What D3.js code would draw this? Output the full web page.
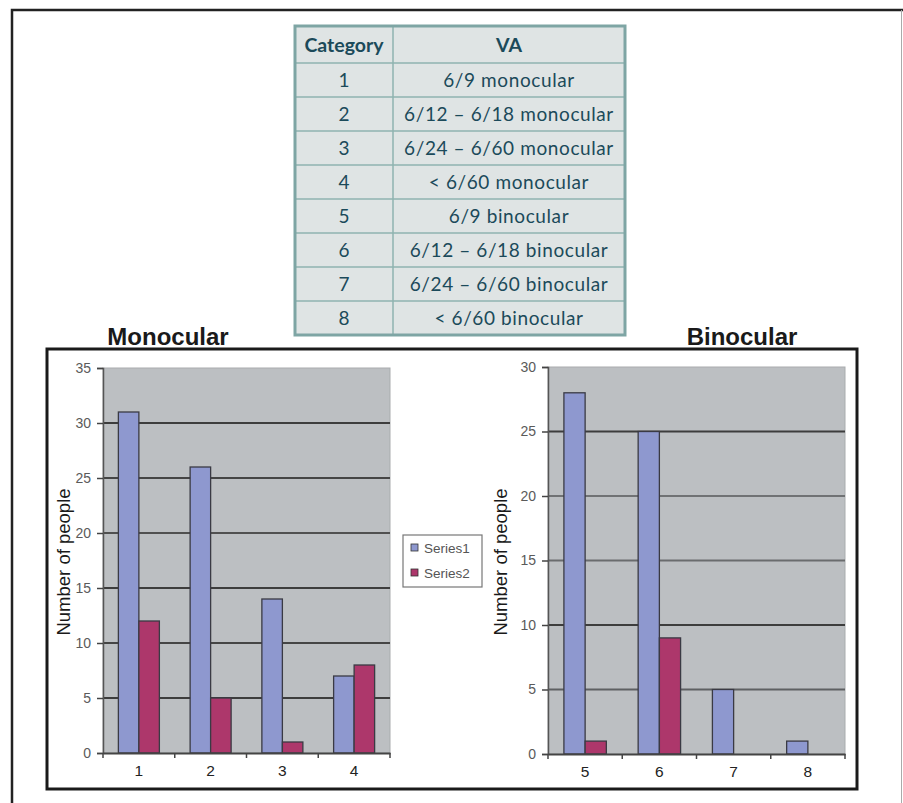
<!DOCTYPE html>
<html><head><meta charset="utf-8">
<script src="https://cdn.jsdelivr.net/npm/d3@7"></script>
<style>body{margin:0;background:#fff;}svg{display:block;}</style>
</head><body>
<script>
// ---- data ----
const tableHeader = ["Category", "VA"];
const tableCategories = ["1","2","3","4","5","6","7","8"];
const tableVA = ["6/9 monocular","6/12 \u2013 6/18 monocular","6/24 \u2013 6/60 monocular","< 6/60 monocular",
                 "6/9 binocular","6/12 \u2013 6/18 binocular","6/24 \u2013 6/60 binocular","< 6/60 binocular"];
const seriesNames = ["Series1","Series2"];
const monoCategories = ["1","2","3","4"];
const monoSeries1 = [31, 26, 14, 7];
const monoSeries2 = [12, 5, 1, 8];
const monoTicks = [0,5,10,15,20,25,30,35];
const binoCategories = ["5","6","7","8"];
const binoSeries1 = [28, 25, 5, 1];
const binoSeries2 = [1, 9, 0, 0];
const binoTicks = [0,5,10,15,20,25,30];
const yTitle = "Number of people";

const W = 903, H = 803;
const colors = ["#8e98cf", "#ad376b"];
const svg = d3.select("body").append("svg").attr("width", W).attr("height", H);

// page frame
svg.append("path").attr("d", `M12,803 V10 H903`).attr("fill","none").attr("stroke","#222").attr("stroke-width",2.5);
svg.append("line").attr("x1",901.5).attr("x2",901.5).attr("y1",10).attr("y2",803).attr("stroke","#aaa").attr("stroke-width",1);

// ---- table ----
const tx0 = 295, tx1 = 625, tcol = 393, ty0 = 26, headH = 37, rowH = 34;
const tyEnd = ty0 + headH + rowH * tableCategories.length;
const tg = svg.append("g");
tg.append("rect").attr("x",tx0).attr("y",ty0).attr("width",tx1-tx0).attr("height",tyEnd-ty0)
  .attr("fill","#dfe4e4");
const rowY = d3.range(tableCategories.length + 1).map(i => i === 0 ? ty0 : ty0 + headH + rowH*(i-1));
rowY.slice(1).forEach(y => tg.append("line").attr("x1",tx0).attr("x2",tx1).attr("y1",y).attr("y2",y)
  .attr("stroke","#8fb3b1").attr("stroke-width",1.5));
tg.append("line").attr("x1",tcol).attr("x2",tcol).attr("y1",ty0).attr("y2",tyEnd).attr("stroke","#8fb3b1").attr("stroke-width",1.5);
tg.append("rect").attr("x",tx0).attr("y",ty0).attr("width",tx1-tx0).attr("height",tyEnd-ty0)
  .attr("fill","none").attr("stroke","#7ea5a4").attr("stroke-width",3);
const tFont = "Lato, 'Open Sans', sans-serif";
const tCol = "#1b4a5a";
tg.append("text").attr("x",(tx0+tcol)/2).attr("y",ty0+headH/2+7).attr("text-anchor","middle")
  .attr("font-family",tFont).attr("font-weight","bold").attr("font-size",19.5).attr("fill",tCol).text(tableHeader[0]);
tg.append("text").attr("x",(tcol+tx1)/2).attr("y",ty0+headH/2+7).attr("text-anchor","middle")
  .attr("font-family",tFont).attr("font-weight","bold").attr("font-size",19.5).attr("fill",tCol).text(tableHeader[1]);
tableCategories.forEach((c,i) => {
  const y = ty0 + headH + rowH*i + rowH/2 + 7;
  tg.append("text").attr("x",(tx0+tcol)/2).attr("y",y).attr("text-anchor","middle")
    .attr("font-family",tFont).attr("font-size",19).attr("fill",tCol).text(c);
  tg.append("text").attr("x",(tcol+tx1)/2).attr("y",y).attr("text-anchor","middle")
    .attr("font-family",tFont).attr("font-size",19).attr("fill",tCol).attr("letter-spacing",0.6).text(tableVA[i]);
});

// ---- chart frame ----
svg.append("rect").attr("x",47).attr("y",349).attr("width",810).attr("height",440)
  .attr("fill","#fff").attr("stroke","#1a1a1a").attr("stroke-width",3);

const aFont = "Arial, 'Liberation Sans', sans-serif";
svg.append("text").attr("x",168).attr("y",345).attr("text-anchor","middle").attr("font-family",aFont)
  .attr("font-weight","bold").attr("font-size",24).attr("fill","#1a1a1a").text("Monocular");
svg.append("text").attr("x",742).attr("y",345).attr("text-anchor","middle").attr("font-family",aFont)
  .attr("font-weight","bold").attr("font-size",24).attr("fill","#1a1a1a").text("Binocular");

function drawChart(cfg){
  const g = svg.append("g");
  const x = d3.scaleBand().domain(cfg.cats).range([cfg.x0, cfg.x1]).paddingInner(0).paddingOuter(0);
  const y = d3.scaleLinear().domain([0, d3.max(cfg.ticks)]).range([cfg.yBottom, cfg.yTop]);
  const bw = x.bandwidth() / 3.5;
  const xs = d3.scaleBand().domain(seriesNames).range([0, 2*bw]);
  // plot area
  g.append("rect").attr("x",cfg.x0).attr("y",cfg.yTop).attr("width",cfg.x1-cfg.x0).attr("height",cfg.yBottom-cfg.yTop)
    .attr("fill","#bcbfc2").attr("stroke","#a9acae").attr("stroke-width",1);
  // gridlines
  g.selectAll(".grid").data(cfg.ticks.filter(t => t > 0 && t < d3.max(cfg.ticks))).join("line")
    .attr("x1",cfg.x0).attr("x2",cfg.x1).attr("y1",d=>y(d)).attr("y2",d=>y(d))
    .attr("stroke",(d,i)=>cfg.gridColors[i]).attr("stroke-width",2);
  // bars
  const data = cfg.cats.flatMap((c,i) => [
    {c, s: seriesNames[0], v: cfg.s1[i], k:0},
    {c, s: seriesNames[1], v: cfg.s2[i], k:1}]).filter(d => d.v > 0);
  g.selectAll(".bar").data(data).join("rect")
    .attr("x", d => x(d.c) + (x.bandwidth() - 2*bw)/2 + xs(d.s))
    .attr("y", d => y(d.v)).attr("width", bw).attr("height", d => y(0) - y(d.v))
    .attr("fill", d => colors[d.k]).attr("stroke","#3a3a44").attr("stroke-width",1.3);
  // y axis
  const ya = d3.axisLeft(y).tickValues(cfg.ticks).tickSize(6).tickPadding(6).tickFormat(d3.format("d"));
  const yg = g.append("g").attr("transform",`translate(${cfg.x0},0)`).call(ya);
  yg.select(".domain").attr("stroke","#555").attr("stroke-width",1.5);
  yg.selectAll(".tick line").attr("stroke","#444").attr("stroke-width",1.5);
  yg.selectAll(".tick text").attr("font-family",aFont).attr("font-size",14).attr("fill","#5a5a5a");
  // x axis
  const xa = d3.axisBottom(x).tickSize(0).tickPadding(12);
  const xg = g.append("g").attr("transform",`translate(0,${cfg.yBottom})`).call(xa);
  xg.select(".domain").attr("stroke","#444").attr("stroke-width",2);
  xg.selectAll(".tick text").attr("font-family",aFont).attr("font-size",15.5).attr("fill","#222");
  g.selectAll(".xt").data(cfg.cats).join("line")
    .attr("x1",d=>x(d)+x.bandwidth()).attr("x2",d=>x(d)+x.bandwidth())
    .attr("y1",cfg.yBottom).attr("y2",cfg.yBottom+5).attr("stroke","#444").attr("stroke-width",1.5);
  g.append("line").attr("x1",cfg.x0).attr("x2",cfg.x0).attr("y1",cfg.yBottom).attr("y2",cfg.yBottom+5)
    .attr("stroke","#444").attr("stroke-width",1.5);
  // y title
  g.append("text").attr("transform",`translate(${cfg.titleX},562) rotate(-90)`)
    .attr("text-anchor","middle").attr("font-family",aFont).attr("font-size",18.5).attr("fill","#1a1a1a").text(yTitle);
}

drawChart({cats: monoCategories, s1: monoSeries1, s2: monoSeries2, ticks: monoTicks,
  x0: 103, x1: 390, yTop: 368, yBottom: 753, titleX: 70,
  gridColors: ["#3d3d3d","#454545","#3d3d3d","#505050","#454545","#3d3d3d"]});
drawChart({cats: binoCategories, s1: binoSeries1, s2: binoSeries2, ticks: binoTicks,
  x0: 548, x1: 845, yTop: 367, yBottom: 754, titleX: 507,
  gridColors: ["#5e6062","#3d3d3d","#6a6c6e","#707274","#3d3d3d"]});

// legend
const lg = svg.append("g").attr("transform","translate(403,535)");
lg.append("rect").attr("width",79).attr("height",52).attr("fill","#fff").attr("stroke","#777").attr("stroke-width",1.2);
seriesNames.forEach((s,i) => {
  lg.append("rect").attr("x",8).attr("y",9+i*25).attr("width",7).attr("height",7)
    .attr("fill",colors[i]).attr("stroke","#333").attr("stroke-width",0.8);
  lg.append("text").attr("x",21).attr("y",17.5+i*25).attr("font-family",aFont).attr("font-size",13.5)
    .attr("fill","#555").text(s);
});
</script>
</body></html>
